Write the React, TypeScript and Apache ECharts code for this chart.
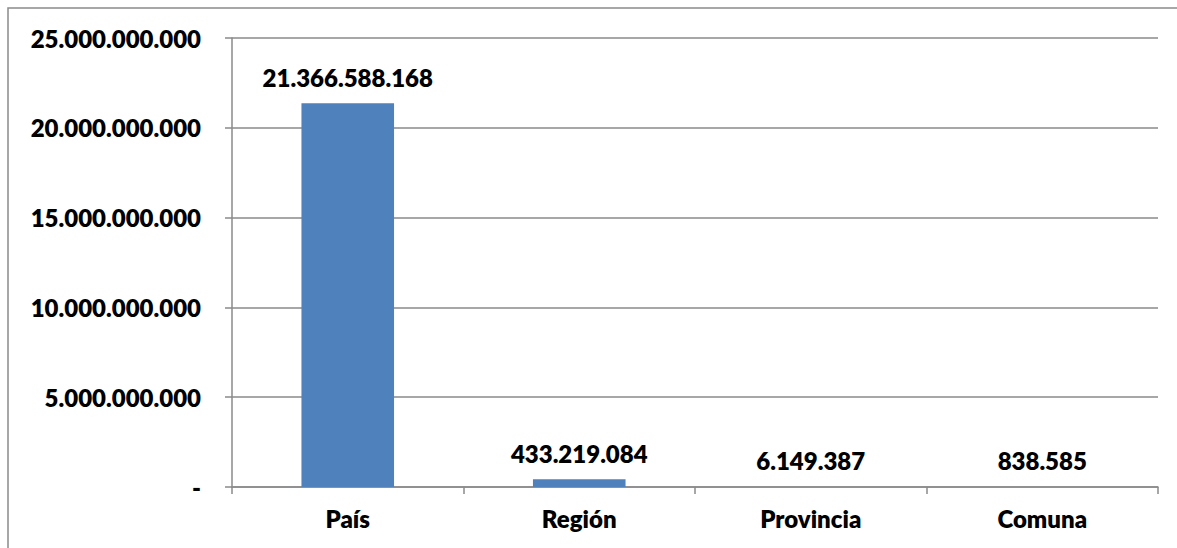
import React, { useEffect, useRef } from "react";
import * as echarts from "echarts";

const categories = ["País", "Región", "Provincia", "Comuna"];
const values = [21366588168, 433219084, 6149387, 838585];
const yMax = 25000000000;
const yInterval = 5000000000;

const FONT = "Lato";
const WEIGHT = 800;

function fmt(v: number): string {
  if (v === 0) return "-";
  return Math.round(v)
    .toString()
    .replace(/\B(?=(\d{3})+(?!\d))/g, ".");
}

export default function App() {
  const ref = useRef<HTMLDivElement>(null);
  useEffect(() => {
    document.body.style.margin = "0";
    const chart = echarts.init(ref.current!, null, { renderer: "svg" });
    chart.setOption({
      animation: false,
      backgroundColor: "#ffffff",
      graphic: [
        {
          type: "rect",
          shape: { x: 8, y: 8, width: 1400, height: 800 },
          style: { fill: "none", stroke: "#8a8a8a", lineWidth: 1.5 },
          silent: true,
          z: -1,
        },
      ],
      grid: { left: 232, right: 19, top: 38, bottom: 61, containLabel: false },
      xAxis: {
        type: "category",
        data: categories,
        axisLine: { show: true, lineStyle: { color: "#8a8a8a", width: 1.5 } },
        axisTick: {
          show: true,
          alignWithLabel: false,
          length: 7,
          lineStyle: { color: "#8a8a8a", width: 1.5 },
        },
        axisLabel: {
          margin: 19,
          color: "#000",
          fontFamily: FONT,
          fontWeight: WEIGHT,
          fontSize: 24,
        },
      },
      yAxis: {
        type: "value",
        min: 0,
        max: yMax,
        interval: yInterval,
        axisLine: { show: true, lineStyle: { color: "#8a8a8a", width: 1.5 } },
        axisTick: { show: true, length: 7, lineStyle: { color: "#8a8a8a", width: 1.5 } },
        splitLine: { show: true, lineStyle: { color: "#8a8a8a", width: 1.5 } },
        axisLabel: {
          margin: 31,
          color: "#000",
          fontFamily: FONT,
          fontWeight: WEIGHT,
          fontSize: 24,
          formatter: (v: number) => fmt(v),
        },
      },
      series: [
        {
          type: "bar",
          data: values,
          barWidth: "40%",
          itemStyle: { color: "#4F81BD" },
          label: {
            show: true,
            position: "top",
            distance: 14,
            color: "#000",
            fontFamily: FONT,
            fontWeight: WEIGHT,
            fontSize: 24,
            formatter: (p: any) => fmt(p.value),
          },
        },
      ],
    });
    return () => chart.dispose();
  }, []);
  return (
    <div
      ref={ref}
      style={{ position: "absolute", left: 0, top: 0, width: 1177, height: 548 }}
    />
  );
}
